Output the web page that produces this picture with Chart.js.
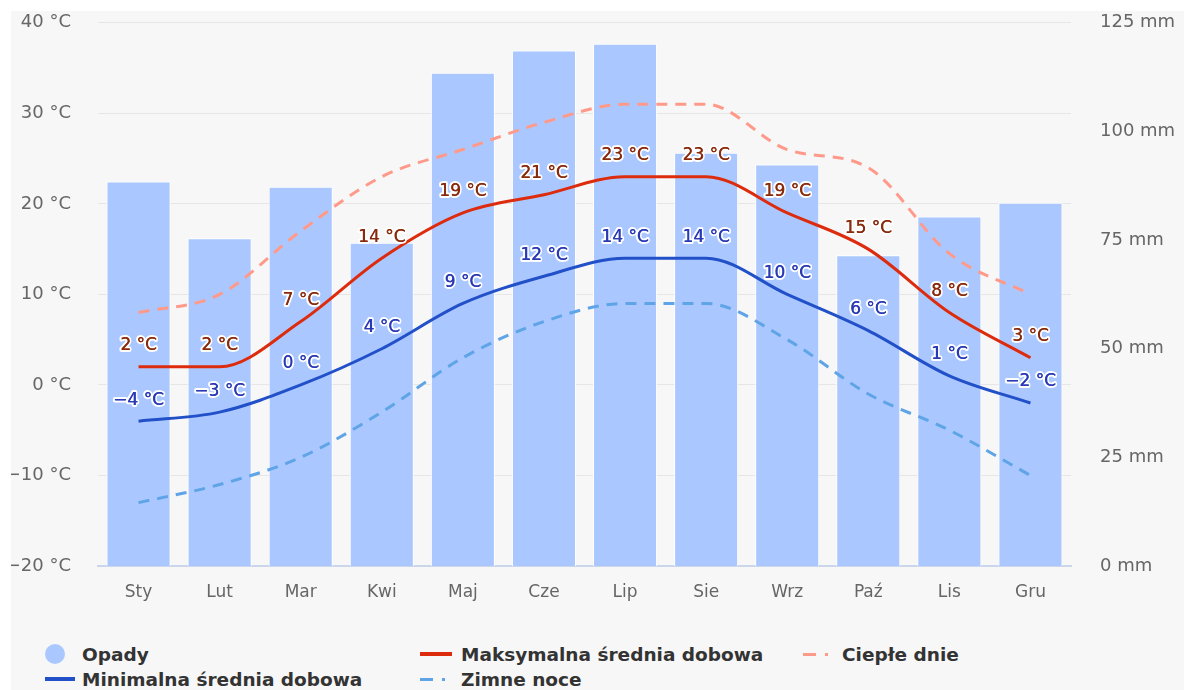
<!DOCTYPE html>
<html>
<head>
<meta charset="utf-8">
<script src="https://cdn.jsdelivr.net/npm/chart.js@4"></script>
<style>
  body { margin: 0; background: #fff; width: 1184px; height: 690px; overflow: hidden; }
  #wrap { position: absolute; left: 11px; top: 11px; width: 1173px; height: 679px; background: #f7f7f7; overflow: hidden; }
  #box { position: absolute; left: 0; top: -28px; width: 1173px; height: 637px; }
  .legend { position: absolute; left: 0; top: 0; font-family: "DejaVu Sans", sans-serif; font-weight: bold; font-size: 18.5px; color: #333; }
  .item { position: absolute; height: 24px; white-space: nowrap; display: flex; align-items: center; }
  .slot { width: 37px; height: 24px; position: relative; flex: none; }
  .slot span { position: absolute; top: 50%; }
</style>
</head>
<body>
<div id="wrap">
  <div id="box"><canvas id="climate"></canvas></div>
  <div class="legend">
    <div class="item" style="left:34px; top:631px;"><div class="slot"><span style="left:0;width:20px;height:20px;margin-top:-10px;border-radius:50%;background:#aac8ff;"></span></div>Opady</div>
    <div class="item" style="left:413px; top:631px;"><div class="slot"><span style="left:-4px;width:32px;height:4px;margin-top:-2px;background:#dd2b0e;"></span></div>Maksymalna średnia dobowa</div>
    <div class="item" style="left:794px; top:631px;"><div class="slot"><span style="left:-2px;width:30px;height:3px;margin-top:-1px;background:linear-gradient(90deg,#ff9a8a 0 13px,transparent 13px 22px,#ff9a8a 22px 25px,transparent 25px);"></span></div>Ciepłe dnie</div>
    <div class="item" style="left:34px; top:656px;"><div class="slot"><span style="left:0;width:30px;height:4px;margin-top:-2px;background:#2250c8;"></span></div>Minimalna średnia dobowa</div>
    <div class="item" style="left:413px; top:656px;"><div class="slot"><span style="left:-4px;width:30px;height:3px;margin-top:-1px;background:linear-gradient(90deg,#5ea4e6 0 13px,transparent 13px 22px,#5ea4e6 22px 25px,transparent 25px);"></span></div>Zimne noce</div>
  </div>
</div>
<script>
const months = ["Sty", "Lut", "Mar", "Kwi", "Maj", "Cze", "Lip", "Sie", "Wrz", "Paź", "Lis", "Gru"];
const opady = [88.5, 75.4, 87.3, 74.4, 113.5, 118.6, 120.2, 95.1, 92.4, 71.5, 80.4, 83.6];
const maxTemp = [2, 2, 7, 14, 19, 21, 23, 23, 19, 15, 8, 3];
const minTemp = [-4, -3, 0, 4, 9, 12, 14, 14, 10, 6, 1, -2];
const warmDays = [8, 10, 17, 23, 26, 29, 31, 31, 26, 24, 14.5, 10];
const coldNights = [-13, -11, -8, -3, 3, 7, 9, 9, 5, -1, -5, -10];

const ctx = document.getElementById("climate");
const tickFont = { family: "DejaVu Sans", size: 18 };

// draw "x °C" above max/min points, white outline like the original
const pointLabels = {
  id: "pointLabels",
  afterDatasetsDraw(chart) {
    const c = chart.ctx;
    c.save();
    c.font = "17px 'DejaVu Sans', sans-serif";
    c.textAlign = "center";
    c.textBaseline = "middle";
    c.lineJoin = "round";
    chart.data.datasets.forEach((ds, i) => {
      if (!ds.showLabels) return;
      chart.getDatasetMeta(i).data.forEach((pt, j) => {
        const txt = (ds.data[j] < 0 ? "\u2212" + Math.abs(ds.data[j]) : ds.data[j]) + " °C";
        const y = pt.y - 21;
        c.strokeStyle = "#fff";
        c.lineWidth = 4;
        c.strokeText(txt, pt.x, y);
        c.fillStyle = ds.labelColor;
        c.fillText(txt, pt.x, y);
        // second pass so the glyphs look a bit heavier
        c.fillText(txt, pt.x + 0.4, y);
      });
    });
    c.restore();
  },
};

new Chart(ctx, {
  type: "bar",
  data: {
    labels: months,
    datasets: [
      {
        type: "line",
        label: "Maksymalna średnia dobowa",
        data: maxTemp,
        borderColor: "#dd2b0e",
        borderWidth: 3,
        pointRadius: 0,
        cubicInterpolationMode: "monotone",
        yAxisID: "y",
        order: 1,
        showLabels: true,
        labelColor: "#8a2a0c",
      },
      {
        type: "line",
        label: "Minimalna średnia dobowa",
        data: minTemp,
        borderColor: "#2250c8",
        borderWidth: 3,
        pointRadius: 0,
        cubicInterpolationMode: "monotone",
        yAxisID: "y",
        order: 1,
        showLabels: true,
        labelColor: "#2a3ab5",
      },
      {
        type: "line",
        label: "Ciepłe dnie",
        data: warmDays,
        borderColor: "#ff9a8a",
        borderWidth: 3,
        borderDash: [11, 8],
        pointRadius: 0,
        cubicInterpolationMode: "monotone",
        yAxisID: "y",
        order: 2,
      },
      {
        type: "line",
        label: "Zimne noce",
        data: coldNights,
        borderColor: "#5ea4e6",
        borderWidth: 3,
        borderDash: [11, 8],
        pointRadius: 0,
        cubicInterpolationMode: "monotone",
        yAxisID: "y",
        order: 2,
      },
      {
        label: "Opady",
        data: opady,
        backgroundColor: "#aac8ff",
        borderColor: "#ffffff",
        borderWidth: 1,
        barPercentage: 0.79,
        categoryPercentage: 1,
        yAxisID: "y1",
        order: 5,
      },
    ],
  },
  options: {
    responsive: true,
    maintainAspectRatio: false,
    animation: false,
    layout: { padding: { top: 11, left: 0, right: 0, bottom: 0 } },
    plugins: {
      legend: { display: false },
      tooltip: { enabled: false },
    },
    scales: {
      x: {
        offset: true,
        grid: { display: false, drawTicks: false },
        border: { color: "#ccd6eb", width: 2 },
        ticks: { color: "#666", padding: 16, font: { family: "DejaVu Sans", size: 17 } },
        afterFit: (s) => { s.height = 54; },
      },
      y: {
        position: "left",
        min: -20,
        max: 40,
        ticks: {
          stepSize: 10,
          padding: 27,
          color: "#666",
          font: tickFont,
          callback: (v) => (v < 0 ? "\u2212" + Math.abs(v) : v) + " °C",
        },
        grid: { color: "#e6e6e6", drawTicks: false },
        border: { display: false },
        afterFit: (s) => { s.width = 87; },
      },
      y1: {
        position: "right",
        min: 0,
        max: 125,
        ticks: {
          stepSize: 25,
          padding: 29,
          color: "#666",
          font: tickFont,
          callback: (v) => v + " mm",
        },
        grid: { display: false, drawTicks: false },
        border: { display: false },
        afterFit: (s) => { s.width = 113; },
      },
    },
  },
  plugins: [pointLabels],
});
</script>
</body>
</html>
